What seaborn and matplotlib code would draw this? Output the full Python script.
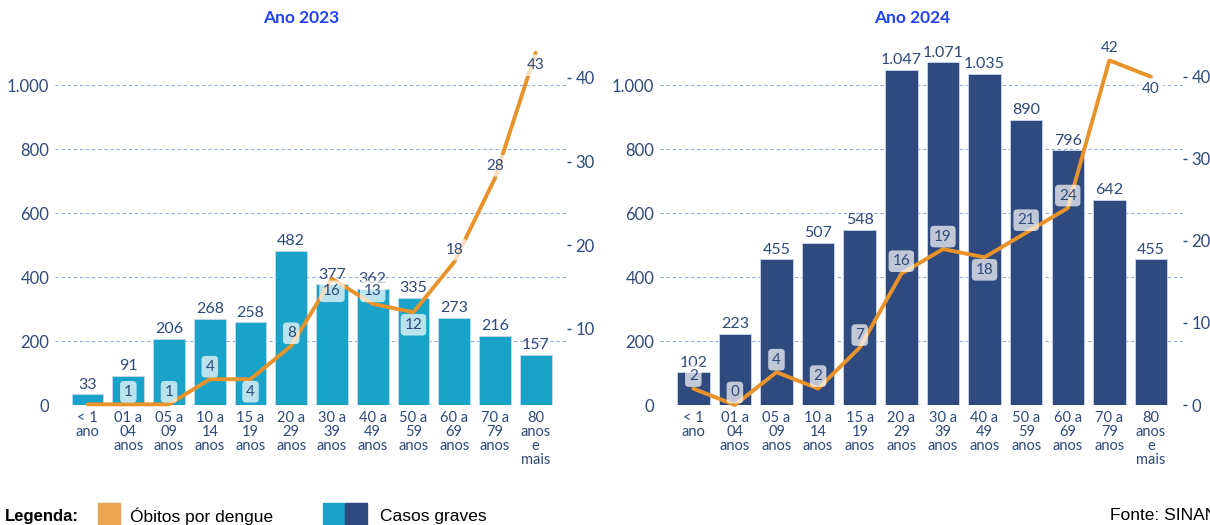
import matplotlib
matplotlib.use("Agg")
import matplotlib.pyplot as plt
from matplotlib.patches import Rectangle
import pandas as pd
import seaborn as sns

# faixas etarias (eixo x)
faixas = ["< 1\nano", "01 a\n04\nanos", "05 a\n09\nanos", "10 a\n14\nanos",
          "15 a\n19\nanos", "20 a\n29\nanos", "30 a\n39\nanos", "40 a\n49\nanos",
          "50 a\n59\nanos", "60 a\n69\nanos", "70 a\n79\nanos", "80\nanos\ne\nmais"]

casos_2023 = [33, 91, 206, 268, 258, 482, 377, 362, 335, 273, 216, 157]
obitos_2023 = [1, 1, 1, 4, 4, 8, 16, 13, 12, 18, 28, 43]
casos_2024 = [102, 223, 455, 507, 548, 1047, 1071, 1035, 890, 796, 642, 455]
obitos_2024 = [2, 0, 4, 2, 7, 16, 19, 18, 21, 24, 42, 40]

# rotulo da linha acima (1), abaixo (-1) ou sem rotulo (0)
lado_2023 = [0, 1, 1, 1, -1, 1, -1, 1, -1, 1, 1, -1]
lado_2024 = [1, 1, 1, 1, 1, 1, 1, -1, 1, 1, 1, -1]

AZUL_TXT = "#2e4a7a"
LARANJA = "#e8922a"
GRADE = "#8eaede"

sns.set_style("white")
plt.rcParams["font.family"] = ["Lato", "DejaVu Sans"]


def milhar(v):
    return f"{v:,}".replace(",", ".")


def painel(fig, rect, casos, obitos, lados, cor, ylim_dir, ticks_dir):
    ax = fig.add_axes(rect)
    df = pd.DataFrame({"faixa": faixas, "casos": casos, "obitos": obitos})
    df["pos"] = range(len(df))
    sns.barplot(data=df, x="faixa", y="casos", color=cor, saturation=1,
                width=0.78, edgecolor="#c9d6ea", linewidth=0.6, ax=ax)
    ax.set_xlim(-0.8, 11.77)
    ax.set_ylim(0, 1172)
    ax.set_yticks([0, 200, 400, 600, 800, 1000])
    ax.set_yticklabels([milhar(t) for t in [0, 200, 400, 600, 800, 1000]])
    ax.yaxis.grid(True, linestyle=(0, (3, 2.5)), color=GRADE, linewidth=0.8)
    ax.set_axisbelow(True)
    ax.tick_params(axis="y", length=0, pad=4, labelsize=12, labelcolor=AZUL_TXT)
    ax.tick_params(axis="x", length=0, pad=4, labelsize=10.5, labelcolor=AZUL_TXT)
    for lab in ax.get_xticklabels():
        lab.set_linespacing(1.0)
    ax.set_xlabel("")
    ax.set_ylabel("")
    for s in ax.spines.values():
        s.set_visible(False)
    ax.bar_label(ax.containers[0], labels=[milhar(v) for v in casos],
                 padding=2, fontsize=11.5, color=AZUL_TXT)

    axr = ax.twinx()
    sns.lineplot(data=df, x="pos", y="obitos", color=LARANJA, linewidth=2.8,
                 ax=axr, clip_on=False, solid_capstyle="round")
    axr.set_ylim(*ylim_dir)
    axr.set_yticks(ticks_dir)
    axr.tick_params(axis="y", length=3, width=1, pad=3, labelsize=12,
                    color=AZUL_TXT, labelcolor=AZUL_TXT)
    axr.set_ylabel("")
    axr.set_xlabel("")
    for s in axr.spines.values():
        s.set_visible(False)
    for i, (v, lado) in enumerate(zip(obitos, lados)):
        if lado == 0:
            continue
        axr.annotate(str(v), (i, v), xytext=(0, 9 * lado), textcoords="offset points",
                     ha="center", va="center", fontsize=11, color=AZUL_TXT,
                     bbox=dict(boxstyle="round,pad=0.25", fc="white", ec="none", alpha=0.7),
                     zorder=5, annotation_clip=False)
    return ax, axr


fig = plt.figure(figsize=(12.1, 5.25), dpi=100)
W, H = 1210, 525

painel(fig, [55 / W, 120 / H, 512 / W, 375 / H], casos_2023, obitos_2023, lado_2023,
       "#1aa3c8", (0.92, 45.72), [10, 20, 30, 40])
painel(fig, [660 / W, 120 / H, 523 / W, 375 / H], casos_2024, obitos_2024, lado_2024,
       "#2e4a7e", (0, 45.7), [0, 10, 20, 30, 40])

fig.text(301 / W, 1 - 18 / H, "Ano 2023", ha="center", va="center",
         fontsize=12.5, fontweight="bold", color="#2142f5")
fig.text(912 / W, 1 - 18 / H, "Ano 2024", ha="center", va="center",
         fontsize=12.5, fontweight="bold", color="#2142f5")

# legenda
fam_leg = ["Liberation Sans Narrow", "Liberation Sans", "DejaVu Sans"]
fig.text(5 / W, 1 - 516 / H, "Legenda:", ha="left", va="center", fontsize=12,
         fontweight="bold", color="black", family=fam_leg)
fig.patches.append(Rectangle((98 / W, 0), 22 / W, 22 / H, transform=fig.transFigure,
                             color="#e9a54f", figure=fig))
fig.text(130 / W, 1 - 516 / H, "Óbitos por dengue", ha="left", va="center",
         fontsize=12.5, color="black", family=fam_leg)
fig.patches.append(Rectangle((323 / W, 0), 21 / W, 22 / H, transform=fig.transFigure,
                             color="#1aa3c8", figure=fig))
fig.patches.append(Rectangle((345 / W, 0), 22 / W, 22 / H, transform=fig.transFigure,
                             color="#2e4a7e", figure=fig))
fig.text(380 / W, 1 - 516 / H, "Casos graves", ha="left", va="center",
         fontsize=12.5, color="black", family=fam_leg)
fig.text(1110 / W, 1 - 516 / H, "Fonte: SINAN", ha="left", va="center",
         fontsize=12.5, color="black", family=fam_leg)

fig.savefig("out.png", dpi=100)
